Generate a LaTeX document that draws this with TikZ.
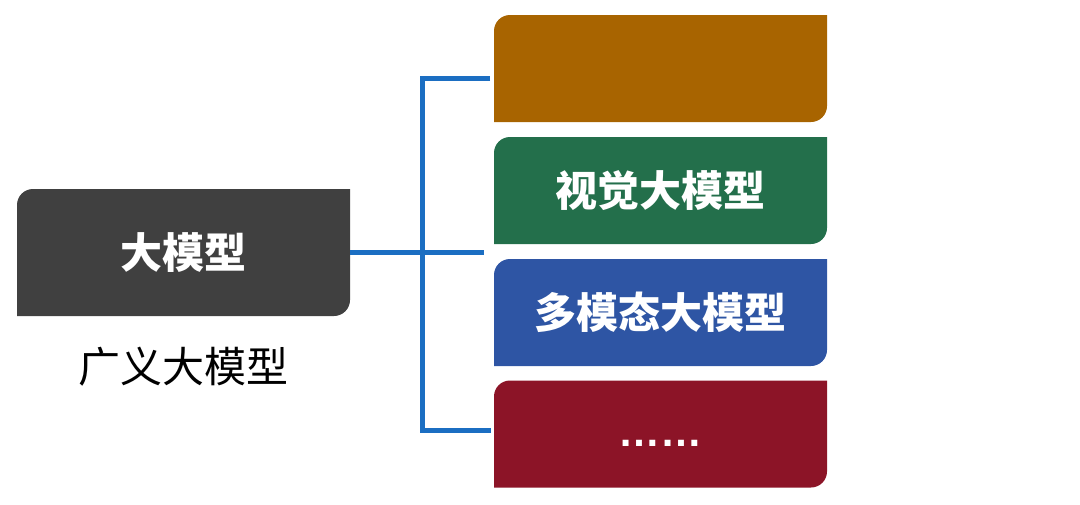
\documentclass[tikz,border=0pt]{standalone}
\usepackage{fontspec}
\newfontfamily\cjk{Noto Sans CJK SC}
\newfontfamily\dotfont{Liberation Sans}
\usetikzlibrary{positioning}
\definecolor{darkbox}{HTML}{404040}
\definecolor{ochre}{HTML}{A86400}
\definecolor{forest}{HTML}{236F4B}
\definecolor{royal}{HTML}{2E55A4}
\definecolor{wine}{HTML}{8C1427}
\definecolor{linkblue}{HTML}{1B6EC2}

\begin{document}
\begin{tikzpicture}[x=1pt,y=-1pt]
			\tikzset{tagbox/.style={minimum width=333pt,minimum height=107pt,inner sep=0pt,text=white,
				font=\cjk\bfseries\fontsize{42}{48}\selectfont,
				path picture={\fill[#1] (path picture bounding box.south west)
					-- ([yshift=-16pt]path picture bounding box.north west)
					arc[start angle=180,end angle=90,radius=16pt]
					-- (path picture bounding box.north east)
					-- ([yshift=16pt]path picture bounding box.south east)
					arc[start angle=0,end angle=-90,radius=16pt]
					-- cycle;}}}
			\tikzset{link/.style={draw=linkblue,line width=5pt}}
			\useasboundingbox (0,0) rectangle (1080,504);
			\node[tagbox=darkbox,minimum height=127pt] (big) at (183.5,252.5) {大模型};
			\node[font=\cjk\fontsize{42}{48}\selectfont] (broad) at (183,367) {广义大模型};
			\node[tagbox=ochre] (lang) at (660.5,68.5) {};
			\node[tagbox=forest] (vision) at (660.5,190.5) {视觉大模型};
			\node[tagbox=royal] (multi) at (660.5,312.5) {多模态大模型};
			\node[tagbox=wine,font=\dotfont\bfseries\fontsize{42}{48}\selectfont,text height=66pt,text depth=41pt] (more) at (660.5,434) {……};
			\coordinate (spine) at (422,252.5);
			\coordinate (tipa) at (490,78);
			\coordinate (tipb) at (484,252.5);
			\coordinate (tipd) at (491,430);
			\draw[link] (big.east) -- (tipb);
			\draw[link] (tipa) -| (spine) |- (tipd);
		\end{tikzpicture}
\end{document}
